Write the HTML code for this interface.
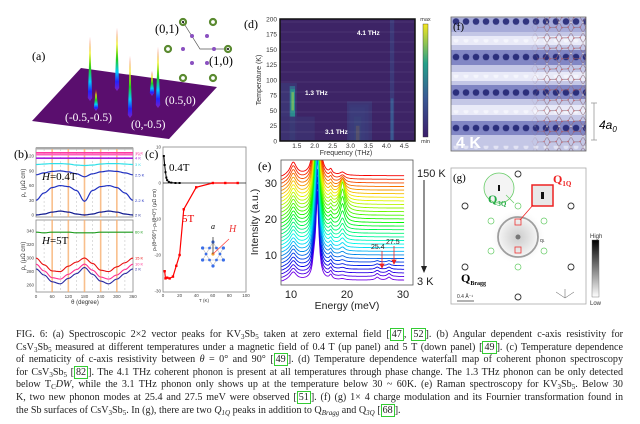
<!DOCTYPE html>
<html><head><meta charset="utf-8"><style>
html,body{margin:0;padding:0;background:#fff;width:640px;height:424px;overflow:hidden}
svg{position:absolute;left:0;top:0}
#cap{position:absolute;left:16px;top:329px;width:607px;font-family:"Liberation Serif",serif;font-size:10.1px;line-height:12.6px;color:#222}
#cap div{text-align:justify;text-align-last:justify;white-space:nowrap;height:12.6px}
#cap div.last{text-align-last:left}
#cap sub{font-size:7px;line-height:0;vertical-align:-2px}
.ref{border:1px solid #3c3;padding:0 1px;line-height:0}
</style></head><body>
<svg id="fig" width="640" height="424" viewBox="0 0 640 424" font-family="Liberation Sans, sans-serif">
<defs>
<linearGradient id="spike" x1="0" y1="0" x2="0" y2="1">
<stop offset="0" stop-color="#e00"/><stop offset="0.25" stop-color="#ee0"/><stop offset="0.5" stop-color="#2c2"/><stop offset="0.7" stop-color="#0cf"/><stop offset="0.85" stop-color="#22f"/><stop offset="1" stop-color="#8020c0"/>
</linearGradient>
<linearGradient id="viri" x1="0" y1="1" x2="0" y2="0">
<stop offset="0" stop-color="#3b1d6b"/><stop offset="0.35" stop-color="#3a5a95"/><stop offset="0.65" stop-color="#25a08a"/><stop offset="1" stop-color="#f5e61f"/>
</linearGradient>
<linearGradient id="gray" x1="0" y1="0" x2="0" y2="1"><stop offset="0" stop-color="#000"/><stop offset="1" stop-color="#fff"/></linearGradient>
<radialGradient id="fftglow" cx="0.5" cy="0.5" r="0.5"><stop offset="0" stop-color="#ccc"/><stop offset="0.6" stop-color="#eee"/><stop offset="1" stop-color="#fff" stop-opacity="0"/></radialGradient>
<pattern id="stmdots" x="451" y="39.25" width="10" height="35.5" patternUnits="userSpaceOnUse"><circle cx="5" cy="17.75" r="3.3" fill="#1c2070" opacity="0.85"/><circle cx="5" cy="1" r="2.5" fill="#fff" opacity="0.5"/></pattern>
<pattern id="hex" x="535" y="17" width="12" height="10.4" patternUnits="userSpaceOnUse">
<path d="M3 0 L9 0 L12 5.2 L9 10.4 L3 10.4 L0 5.2 Z" fill="none" stroke="#8a6a7a" stroke-width="0.7"/>
<circle cx="3" cy="0" r="0.9" fill="#c33"/><circle cx="9" cy="10.4" r="0.9" fill="#c33"/><circle cx="0" cy="5.2" r="0.8" fill="#eee"/><circle cx="12" cy="5.2" r="0.8" fill="#eee"/>
</pattern>
<linearGradient id="hexfade" x1="0" y1="0" x2="1" y2="0"><stop offset="0" stop-color="#fff" stop-opacity="0"/><stop offset="0.3" stop-color="#fff" stop-opacity="1"/></linearGradient>
<mask id="hexmask"><rect x="530" y="17" width="56" height="134" fill="url(#hexfade)"/></mask>
<clipPath id="eclip"><rect x="281" y="160" width="132" height="125"/></clipPath>
<clipPath id="bclipT"><rect x="36" y="149" width="97" height="68"/></clipPath>
<clipPath id="bclipB"><rect x="36" y="220" width="97" height="72"/></clipPath>
</defs>

<!-- (a) -->
<g>
<text x="32" y="60" font-family="Liberation Serif,serif" font-size="12">(a)</text>
<polygon points="32,121 81,68 217,87 169,139" fill="#5a0e6e"/>
<g id="spikes"></g>
<text x="65" y="121" font-family="Liberation Serif,serif" font-size="11.5" fill="#fff">(-0.5,-0.5)</text>
<text x="131" y="128" font-family="Liberation Serif,serif" font-size="11.5" fill="#fff">(0,-0.5)</text>
<text x="165" y="104" font-family="Liberation Serif,serif" font-size="11.5" fill="#fff">(0.5,0)</text>
<g>
<polyline points="183,22 200,49 228,49" fill="none" stroke="#555" stroke-width="0.7"/>
<g fill="none" stroke="#5a8a30" stroke-width="2.2">
<circle cx="183" cy="22" r="3"/><circle cx="213" cy="22" r="3"/><circle cx="168" cy="49" r="3"/><circle cx="228" cy="49" r="3"/><circle cx="183" cy="78" r="3"/><circle cx="213" cy="78" r="3"/></g>
<g fill="#8a50c0"><circle cx="192" cy="36" r="2"/><circle cx="207" cy="36" r="2"/><circle cx="183" cy="49" r="2"/><circle cx="214" cy="49" r="2"/><circle cx="192" cy="63" r="2"/><circle cx="207" cy="63" r="2"/></g>
<circle cx="183" cy="22" r="1" fill="#000"/><circle cx="228" cy="49" r="1" fill="#000"/>
<text x="155" y="33" font-family="Liberation Serif,serif" font-size="12.5">(0,1)</text>
<text x="209" y="65" font-family="Liberation Serif,serif" font-size="12.5">(1,0)</text>
</g></g>

<!-- (d) -->
<g>
<text x="244" y="28" font-family="Liberation Serif,serif" font-size="12">(d)</text>
<rect x="280" y="19" width="135" height="122" fill="#3d2466"/>
<g id="heat"></g>
<rect x="280" y="19" width="135" height="122" fill="none" stroke="#111" stroke-width="1.5"/>
<g id="daxes" font-size="6.5" fill="#333"></g>
<text x="346" y="155" font-size="7" fill="#333" text-anchor="middle">Frequency (THz)</text>
<text transform="translate(261,80) rotate(-90)" font-size="7" fill="#333" text-anchor="middle">Temperature (K)</text>
<text x="305" y="95" font-size="6.5" font-weight="bold" fill="#fff">1.3 THz</text>
<text x="325" y="134" font-size="6.5" font-weight="bold" fill="#fff">3.1 THz</text>
<text x="357" y="35" font-size="6.5" font-weight="bold" fill="#fff">4.1 THz</text>
<rect x="423" y="24" width="5" height="113" fill="url(#viri)" stroke="#333" stroke-width="0.4"/>
<text x="425.5" y="21" font-size="5.5" text-anchor="middle" fill="#333">max</text>
<text x="425.5" y="143" font-size="5.5" text-anchor="middle" fill="#333">min</text>
</g>

<!-- (f) -->
<g>
<rect x="451" y="17" width="135" height="134" fill="#c4c7e6"/>
<rect x="451" y="18" width="135" height="14" fill="#8a8fcc" opacity="0.5"/>
<rect x="451" y="36" width="135" height="9" fill="#f2f3fc" opacity="0.8"/>
<rect x="451" y="50" width="135" height="15" fill="#7076bb" opacity="0.8"/>
<rect x="451" y="72" width="135" height="9" fill="#f2f3fc" opacity="0.8"/>
<rect x="451" y="85" width="135" height="14" fill="#7076bb" opacity="0.8"/>
<rect x="451" y="105" width="135" height="10" fill="#f2f3fc" opacity="0.8"/>
<rect x="451" y="121" width="135" height="14" fill="#7076bb" opacity="0.8"/>
<rect x="451" y="17" width="135" height="134" fill="url(#stmdots)"/>
<rect x="530" y="17" width="56" height="134" fill="url(#hex)" mask="url(#hexmask)" opacity="0.8"/>
<rect x="451" y="17" width="135" height="134" fill="none" stroke="#666" stroke-width="0.8"/>
<text x="453" y="30" font-family="Liberation Serif,serif" font-size="11">(f)</text>
<text x="456" y="148" font-size="16" font-weight="bold" fill="#fff">4 K</text>
<g stroke="#999" stroke-width="0.8"><line x1="594" y1="103" x2="594" y2="140"/><line x1="591" y1="103" x2="597" y2="103"/><line x1="591" y1="140" x2="597" y2="140"/></g>
<text x="599" y="129" font-size="12" font-style="italic">4a<tspan font-size="8" dy="3">0</tspan></text>
</g>

<!-- (b) -->
<g>
<text x="14" y="158" font-family="Liberation Serif,serif" font-size="12">(b)</text>
<rect x="36" y="148" width="97" height="69" fill="#fff" stroke="#888" stroke-width="0.8"/>
<rect x="36" y="147" width="97" height="2.5" fill="#aaa"/>
<rect x="36" y="220" width="97" height="72" fill="#fff" stroke="#888" stroke-width="0.8"/>
<g id="bgrid"></g>
<g id="bcurvesT" clip-path="url(#bclipT)"></g>
<g id="bcurvesB" clip-path="url(#bclipB)"></g>
<g id="baxes" font-size="4.5" fill="#444"></g>
<text x="42" y="180" font-family="Liberation Serif,serif" font-size="11" font-style="italic">H<tspan font-style="normal">=0.4T</tspan></text>
<text x="42" y="244" font-family="Liberation Serif,serif" font-size="11" font-style="italic">H<tspan font-style="normal">=5T</tspan></text>
<text transform="translate(25,183) rotate(-90)" font-size="6" text-anchor="middle" fill="#333">ρ<tspan font-size="4" dy="1">c</tspan><tspan dy="-1"> (μΩ cm)</tspan></text>
<text transform="translate(25,256) rotate(-90)" font-size="6" text-anchor="middle" fill="#333">ρ<tspan font-size="4" dy="1">c</tspan><tspan dy="-1"> (μΩ cm)</tspan></text>
<text x="85" y="304" font-size="6" text-anchor="middle" fill="#333">θ (degree)</text>
</g>

<!-- (c) -->
<g>
<text x="145" y="158" font-family="Liberation Serif,serif" font-size="12">(c)</text>
<rect x="163" y="147" width="83" height="145" fill="#fff" stroke="#888" stroke-width="0.8"/>
<g id="caxes" font-size="4.5" fill="#444"></g>
<g id="cplot"></g>
<text x="169" y="171" font-family="Liberation Serif,serif" font-size="11">0.4T</text>
<text x="182" y="222" font-family="Liberation Serif,serif" font-size="11" fill="#e00">5T</text>
<text transform="translate(156,220) rotate(-90)" font-size="5" text-anchor="middle" fill="#333">ρ<tspan font-size="3.5">c</tspan>(θ=90°)−ρ<tspan font-size="3.5">c</tspan>(θ=0°) (μΩ cm)</text>
<text x="204" y="302" font-size="4.5" text-anchor="middle" fill="#333">T (K)</text>
<g id="cinset"></g>
<text x="211" y="229" font-family="Liberation Serif,serif" font-size="8" font-style="italic">a</text>
<text x="229" y="232" font-family="Liberation Serif,serif" font-size="10" font-style="italic" fill="#e33">H</text>
</g>

<!-- (e) -->
<g>
<text x="258" y="170" font-family="Liberation Serif,serif" font-size="12">(e)</text>
<g id="ecurves" clip-path="url(#eclip)"></g>
<rect x="281" y="160" width="132" height="125" fill="none" stroke="#555" stroke-width="0.8"/>
<g id="eaxes" font-size="11" fill="#222"></g>
<text transform="translate(258,222) rotate(-90)" font-size="10.5" text-anchor="middle" fill="#222">Intensity (a.u.)</text>
<text x="347" y="309" font-size="10.5" text-anchor="middle" fill="#222">Energy (meV)</text>
<text x="417" y="177" font-size="11" fill="#222">150 K</text>
<line x1="424" y1="180" x2="424" y2="268" stroke="#222" stroke-width="1"/>
<polygon points="421,266 427,266 424,273" fill="#222"/>
<text x="417" y="285" font-size="11" fill="#222">3 K</text>
<text x="371" y="249" font-size="7" fill="#222">25.4</text>
<text x="386" y="244" font-size="7" fill="#222">27.5</text>
<g stroke="#e22" fill="#e22" stroke-width="0.8">
<line x1="382" y1="251" x2="382" y2="265"/><polygon points="380,264 384,264 382,268"/>
<line x1="394" y1="246" x2="394" y2="261"/><polygon points="392,260 396,260 394,264"/></g>
</g>

<!-- (g) -->
<g>
<rect x="451" y="168" width="135" height="136" fill="#fff" stroke="#aaa" stroke-width="0.8"/>
<circle cx="518" cy="237" r="28" fill="url(#fftglow)"/>
<circle cx="518" cy="237" r="20" fill="none" stroke="#888" stroke-width="1.8" opacity="0.8"/>
<circle cx="518" cy="237" r="2.5" fill="#777"/>
<g fill="none" stroke="#333" stroke-width="0.9">
<circle cx="518" cy="174" r="3"/><circle cx="465" cy="206" r="3"/><circle cx="571" cy="206" r="3"/><circle cx="465" cy="267" r="3"/><circle cx="571" cy="267" r="3"/><circle cx="518" cy="297" r="3"/></g>
<g fill="none" stroke="#6c6" stroke-width="0.7">
<circle cx="518" cy="206" r="3"/><circle cx="491" cy="221" r="3"/><circle cx="544" cy="221" r="3"/><circle cx="491" cy="251" r="3"/><circle cx="544" cy="251" r="3"/><circle cx="518" cy="267" r="3"/></g>
<g fill="none" stroke="#e33" stroke-width="0.8"><rect x="515" y="219" width="6" height="6"/><rect x="515" y="247" width="6" height="6"/></g>
<circle cx="499" cy="188" r="15" fill="#f4f4f4" stroke="#6c6" stroke-width="0.8"/><rect x="498" y="185" width="2" height="6" fill="#111"/>
<line x1="514" y1="203" x2="506" y2="195" stroke="#6c6" stroke-width="0.7"/>
<rect x="532" y="185" width="21" height="21" fill="#e8e8e8" stroke="#e22" stroke-width="1.5"/><rect x="541" y="192" width="3" height="7" fill="#111"/>
<line x1="520" y1="220" x2="533" y2="205" stroke="#e22" stroke-width="0.8"/>
<text x="553" y="183" font-family="Liberation Serif,serif" font-size="12" font-weight="bold" fill="#e22">Q<tspan font-size="7" dy="3">1Q</tspan></text>
<text x="488" y="203" font-family="Liberation Serif,serif" font-size="12" font-weight="bold" fill="#2a4">Q<tspan font-size="7" dy="3">3Q</tspan></text>
<text x="461" y="282" font-family="Liberation Serif,serif" font-size="12" font-weight="bold">Q<tspan font-size="6" dy="3">Bragg</tspan></text>
<text x="453" y="181" font-family="Liberation Serif,serif" font-size="11">(g)</text>
<text x="540" y="242" font-size="5" fill="#333">q<tspan font-size="3.5">1</tspan></text>
<line x1="457" y1="301" x2="474" y2="301" stroke="#333" stroke-width="0.8"/>
<text x="457" y="298" font-size="5" fill="#333">0.4 Å⁻¹</text>
<g stroke="#555" stroke-width="0.5"><line x1="565" y1="298" x2="556" y2="292"/><line x1="565" y1="298" x2="574" y2="292"/><line x1="565" y1="298" x2="565" y2="289"/></g>
<rect x="592" y="240" width="7" height="57" fill="url(#gray)" stroke="#666" stroke-width="0.4"/>
<text x="590" y="238" font-size="6" fill="#333">High</text>
<text x="590" y="305" font-size="6" fill="#333">Low</text>
</g>
</svg>

<div id="cap">
<div>FIG. 6: (a) Spectroscopic 2×2 vector peaks for KV<sub>3</sub>Sb<sub>5</sub> taken at zero external field [<span class="ref">47</span>, <span class="ref">52</span>]. (b) Angular dependent c-axis resistivity for</div>
<div>CsV<sub>3</sub>Sb<sub>5</sub> measured at different temperatures under a magnetic field of 0.4 T (up panel) and 5 T (down panel) [<span class="ref">49</span>]. (c) Temperature dependence</div>
<div>of nematicity of c-axis resistivity between <i>θ</i> = 0° and 90° [<span class="ref">49</span>]. (d) Temperature dependence waterfall map of coherent phonon spectroscopy</div>
<div>for CsV<sub>3</sub>Sb<sub>5</sub> [<span class="ref">82</span>]. The 4.1 THz coherent phonon is present at all temperatures through phase change. The 1.3 THz phonon can be only detected</div>
<div>below T<sub>C</sub><i>DW</i>, while the 3.1 THz phonon only shows up at the temperature below 30 ~ 60K. (e) Raman spectroscopy for KV<sub>3</sub>Sb<sub>5</sub>. Below 30</div>
<div>K, two new phonon modes at 25.4 and 27.5 meV were observed [<span class="ref">51</span>]. (f) (g) 1× 4 charge modulation and its Fournier transformation found in</div>
<div class="last">the Sb surfaces of CsV<sub>3</sub>Sb<sub>5</sub>. In (g), there are two <i>Q</i><sub><i>1Q</i></sub> peaks in addition to Q<sub><i>Bragg</i></sub> and Q<sub><i>3Q</i></sub> [<span class="ref">68</span>].</div>
</div>

<script>
const NS='http://www.w3.org/2000/svg';
function mk(p,tag,a){const e=document.createElementNS(NS,tag);for(const k in a)e.setAttribute(k,a[k]);document.getElementById(p).appendChild(e);return e;}

// ---- (a) peaks ----
const aPeakX=[90,117,130,158,96,152];
const aPeakTop=[37,28,56,47,89,71];
const aPeakBase=[98,88,115,105,108,93];
aPeakX.forEach((x,i)=>{
  const e=mk('spikes','polygon',{points:`${x},${aPeakTop[i]} ${x+2.2},${aPeakBase[i]} ${x},${aPeakBase[i]+3} ${x-2.2},${aPeakBase[i]}`,fill:'url(#spike)'});
  
  
});

// ---- (d) heatmap ----
const dFreqTicks=[1.5,2.0,2.5,3.0,3.5,4.0,4.5];
const dTempTicks=[0,25,50,75,100,125,150,175,200];
const dFreqLo=[1.05,1.3,1.32,1.35,2.95,3.0,3.1,3.15,4.1,4.12,2.9,1.05];
const dFreqHi=[1.5,1.45,1.45,1.42,3.5,3.4,3.3,3.25,4.22,4.2,3.6,2.0];
const dTLo=[0,0,40,50,0,0,0,0,0,0,0,0];
const dTHi=[95,90,85,80,60,55,40,25,200,70,65,40];
const dLevel=[0.12,0.45,0.6,0.8,0.2,0.3,0.5,1.0,0.15,0.35,0.12,0.08];
const dF=f=>280+(f-1.03)*(135/(4.8-1.03));
const dT=t=>141-t*122/200;
function viri(v){const s=[[61,36,102],[58,90,149],[37,160,138],[245,230,31]];const p=Math.min(2.999,v*3);const i=Math.floor(p),t=p-i;const c=s[i].map((x,k)=>Math.round(x+(s[i+1][k]-x)*t));return `rgb(${c})`;}
dFreqLo.forEach((f,i)=>{
  const e=mk('heat','rect',{x:dF(f),y:dT(dTHi[i]),width:dF(dFreqHi[i])-dF(f),height:dT(dTLo[i])-dT(dTHi[i]),fill:viri(dLevel[i]),opacity:0.85});
  
  
});
for(let k=0;k<12;k++){const g=mk('heat','line',{x1:280,x2:415,y1:19+k*10+3,y2:19+k*10+3,stroke:'#fff','stroke-opacity':0.08});}
dFreqTicks.forEach(f=>{const t=mk('daxes','text',{x:dF(f),y:148,'text-anchor':'middle'});t.textContent=f.toFixed(1);});
dTempTicks.forEach(v=>{const t=mk('daxes','text',{x:277,y:dT(v)+2.3,'text-anchor':'end'});t.textContent=v;});

// ---- (b) resistivity ----
const bTheta=[0,30,60,90,120,150,180,210,240,270,300,330,360];
const bTopLabels=['10 K','7 K','4 K','3 K','2.5 K','2.2 K','2 K'];
const bTop10K=[127,127,127,127,127,127,127,127,127,127,127,127,127];
const bTop7K=[123,123,123,123,123,123,123,123,123,123,123,123,123];
const bTop4K=[116,116,116,116,116,116,116,116,116,116,116,116,116];
const bTop3K=[103,104,105,105,104,102,101,102,104,105,105,104,103];
const bTop25K=[82,86,89,90,88,84,78,84,88,90,89,86,82];
const bTop22K=[30,45,56,60,58,50,28,50,58,60,56,45,30];
const bTop2K=[0,2,6,8,6,2,0,2,6,8,6,2,0];
const bBotLabels=['60 K','15 K','10 K','2 K'];
const bBot60K=[338,337,338,338,338,337,337,337,338,338,338,338,338];
const bBot15K=[300,290,281,280,288,294,300,292,282,280,287,293,300];
const bBot10K=[291,281,271,269,276,283,291,282,272,269,275,283,291];
const bBot2K=[284,275,265,262,270,277,286,276,266,262,269,277,284];
const bX=t=>36+t*97/360;
const bYT=v=>215-v*0.49;
const bYB=v=>258-(v-300)*0.68;
const topSeries=[[bTop10K,'#ff3ca0'],[bTop7K,'#ff60c0'],[bTop4K,'#a020e0'],[bTop3K,'#30e0e8'],[bTop25K,'#2030c0'],[bTop22K,'#2030c0'],[bTop2K,'#101a90']];
const botSeries=[[bBot60K,'#1a9a1a'],[bBot15K,'#e81010'],[bBot10K,'#ff3090'],[bBot2K,'#2a2aa0']];
[60,120,180,240,300].forEach(t=>{[[149,217],[220,292]].forEach(r=>{const l=mk('bgrid','line',{x1:bX(t),x2:bX(t),y1:r[0],y2:r[1],stroke:'#f8b070','stroke-width':1.6,opacity:0.8});});});
[30,90,150,210,270,330].forEach(t=>{[[149,217],[220,292]].forEach(r=>{const l=mk('bgrid','line',{x1:bX(t),x2:bX(t),y1:r[0],y2:r[1],stroke:'#bbb','stroke-width':0.5,'stroke-dasharray':'2,2'});});});
function smooth(arr,fx,fy){let d='';const n=arr.length;for(let i=0;i<n-1;i++){for(let s=0;s<6;s++){const t=s/6;const a=arr[i],b=arr[i+1];const v=a+(b-a)*(1-Math.cos(Math.PI*t))/2;const th=bTheta[i]+(bTheta[i+1]-bTheta[i])*t;d+=(d?'L':'M')+fx(th).toFixed(1)+','+fy(v).toFixed(1);}}d+='L'+fx(bTheta[n-1])+','+fy(arr[n-1]);return d;}
topSeries.forEach((s,i)=>{const p=mk('bcurvesT','path',{d:smooth(s[0],bX,bYT),fill:'none',stroke:s[1],'stroke-width':i<3?1.6:1.2});
  const t=mk('baxes','text',{x:135,y:bYT(s[0][12])+1.5,fill:s[1],'font-size':4});t.textContent=bTopLabels[i];});
botSeries.forEach((s,i)=>{const p=mk('bcurvesB','path',{d:smooth(s[0],bX,bYB),fill:'none',stroke:s[1],'stroke-width':1.1});
  const t=mk('baxes','text',{x:135,y:bYB(s[0][12])+1.5,fill:s[1],'font-size':4});t.textContent=bBotLabels[i];});
const bTopTicks=[0,30,60,90,120];const bBotTicks=[260,280,300,320,340];const bXTicks=[0,60,120,180,240,300,360];
bTopTicks.forEach(v=>{const t=mk('baxes','text',{x:34,y:bYT(v)+1.5,'text-anchor':'end'});t.textContent=v;});
bBotTicks.forEach(v=>{const t=mk('baxes','text',{x:34,y:bYB(v)+1.5,'text-anchor':'end'});t.textContent=v;});
bXTicks.forEach(v=>{const t=mk('baxes','text',{x:bX(v),y:298,'text-anchor':'middle'});t.textContent=v;});

// ---- (c) nematicity ----
const cT5=[2,3,5,8,12,16,20,25,40,60,75,90];
const cV5=[-24.5,-26.5,-26.3,-26.5,-26,-23,-20,-7.3,-1.2,0,0,0];
const cT04=[1,2,3,4,5,7,10,15,20];
const cV04=[7.5,5,3,1.5,0.8,0.3,0.1,0,0];
const cYTicks=[10,0,-10,-20,-30];const cXTicks=[0,20,40,60,80,100];
const cX=t=>163+t*0.83;const cY=v=>183-v*3.6;
const zl=mk('cplot','line',{x1:163,x2:246,y1:cY(0),y2:cY(0),stroke:'#222','stroke-width':0.8});
const l5=mk('cplot','polyline',{points:cT5.map((t,i)=>cX(t)+','+cY(cV5[i])).join(' '),fill:'none',stroke:'#f00','stroke-width':1.2});
cT5.forEach((t,i)=>{const r=mk('cplot','rect',{x:cX(t)-1.2,y:cY(cV5[i])-1.2,width:2.4,height:2.4,fill:'#f00'});});
const l04=mk('cplot','polyline',{points:cT04.map((t,i)=>cX(t)+','+cY(cV04[i])).join(' '),fill:'none',stroke:'#000','stroke-width':1});
cT04.forEach((t,i)=>{const r=mk('cplot','rect',{x:cX(t)-1,y:cY(cV04[i])-1,width:2,height:2,fill:'#000'});});
cYTicks.forEach(v=>{const t=mk('caxes','text',{x:161,y:cY(v)+1.5,'text-anchor':'end'});t.textContent=v;});
cXTicks.forEach(v=>{const t=mk('caxes','text',{x:cX(v),y:297,'text-anchor':'middle'});t.textContent=v;});
(function(){const cx=213,cy=254,r=12;const pts=[];for(let k=0;k<6;k++){const a=Math.PI/6+k*Math.PI/3;pts.push([cx+r*Math.cos(a),cy+r*Math.sin(a)]);}
for(let k=0;k<6;k++){const a=pts[k],b=pts[(k+2)%6];const l=mk('cinset','line',{x1:a[0],y1:a[1],x2:b[0],y2:b[1],stroke:'#bbb','stroke-width':0.6});}
pts.forEach(p=>{const c=mk('cinset','circle',{cx:p[0],cy:p[1],r:1.6,fill:'#3a6ee8'});});
for(let k=0;k<6;k++){const a=k*Math.PI/3;const c=mk('cinset','circle',{cx:cx+r*0.58*Math.cos(a),cy:cy+r*0.58*Math.sin(a),r:1.4,fill:'#3a6ee8'});}
const o=mk('cinset','circle',{cx:cx,cy:cy,r:1.6,fill:'#f0a030'});
const a1=mk('cinset','line',{x1:cx,y1:cy,x2:cx,y2:cy-17,stroke:'#222','stroke-width':0.7});
const h=mk('cinset','line',{x1:cx,y1:cy,x2:cx+16,y2:cy-15,stroke:'#f44','stroke-width':0.8});})();

// ---- (e) Raman waterfall ----
const eOffsets=[3,4,5,6,7,8,9,10,11,12,13,14,15,16,17,18,19,20,21,22,23,24,25,26,27,28,29,30,31,32];
const e19Amp=[0.3,0.3,0.3,0.4,0.4,0.5,0.6,0.8,1,1.2,1.5,1.8,2,2.5,3,4,5,6,7,8,8,7,6,5,4,3,2,1.5,1,0.8];
const eLowTAmp=[0.8,0.8,0.7,0.6,0.5,0.4,0,0,0,0,0,0,0,0,0,0,0,0,0,0,0,0,0,0,0,0,0,0,0,0];
const eMainAmp=[22,22,22,23,24,25,27,29,30,32,34,35,36,36,36,36,36,36,36,36,36,36,36,36,36,36,36,36,36,36];
const eBump10=[2.2,2.2,2.2,2.3,2.3,2.4,2.5,2.5,2.6,2.6,2.7,2.8,2.8,2.9,3,3,3,3.1,3.1,3.2,3.2,3.2,3.3,3.3,3.4,3.4,3.5,3.5,3.6,3.6];
const eXTicks=[10,20,30];const eYTicks=[10,20,30];
const eX=E=>291+(E-10)*5.6;const eY=v=>291-v*3.6;
const lor=(E,c,w)=>1/(1+((E-c)/w)*((E-c)/w));
eOffsets.forEach((off,i)=>{let d='';for(let E=8.3;E<=30.3;E+=0.1){const v=off+eBump10[i]*lor(E,10.4,0.7)+eMainAmp[i]*lor(E,14.7,0.35)+0.15*eMainAmp[i]*lor(E,14.1,0.3)+1.2*lor(E,17.1,0.3)+e19Amp[i]*lor(E,19.2,0.5)+eLowTAmp[i]*(lor(E,25.4,0.4)+lor(E,27.5,0.4))-0.5*lor(E,8.3,0.8);d+=(d?'L':'M')+eX(E).toFixed(1)+','+eY(v).toFixed(1);}
  const hue=270-270*i/(eOffsets.length-1);
  const p=mk('ecurves','path',{d:d,fill:'none',stroke:`hsl(${hue},100%,${hue>200?45:48}%)`,'stroke-width':0.9});});
eXTicks.forEach(v=>{const t=mk('eaxes','text',{x:eX(v),y:298,'text-anchor':'middle'});t.textContent=v;});
eYTicks.forEach(v=>{const t=mk('eaxes','text',{x:277,y:eY(v)+4,'text-anchor':'end'});t.textContent=v;});
</script>
</body></html>
